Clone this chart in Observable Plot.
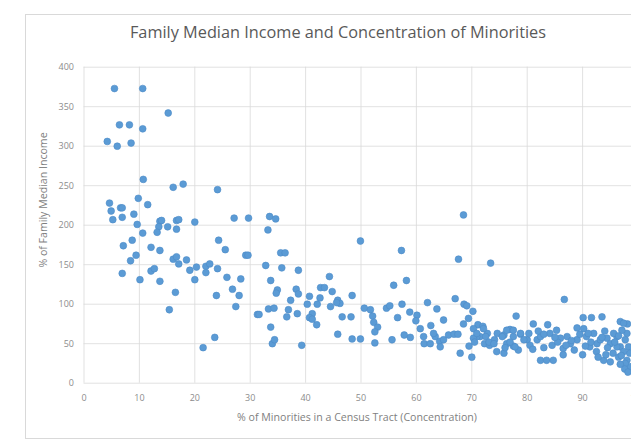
<!DOCTYPE html>
<html><head><meta charset="utf-8">
<script src="https://cdn.jsdelivr.net/npm/d3@7"></script>
<script src="https://cdn.jsdelivr.net/npm/@observablehq/plot@0.6"></script>
<style>
html,body{margin:0;padding:0;background:#fff;overflow:hidden;}
#wrap{position:relative;width:631px;height:441px;overflow:hidden;font-family:"Open Sans",sans-serif;}
#frame{position:absolute;left:25px;top:14px;width:700px;height:425px;border:1px solid #d9d9d9;box-sizing:border-box;}
#title{position:absolute;left:0;width:676px;top:21px;text-align:center;font-size:16.3px;color:#595959;}
#xtitle{position:absolute;left:0;width:714px;top:410px;text-align:center;font-size:10.6px;color:#7f7f7f;}
#ytitle{position:absolute;left:-57px;width:200px;top:193px;text-align:center;font-size:10.6px;color:#7f7f7f;transform:rotate(-90deg);}
#chart{position:absolute;left:0;top:0;}
#chart svg{max-width:none;}
</style></head>
<body><div id="wrap"><div id="frame"></div>
<div id="title">Family Median Income and Concentration of Minorities</div>
<div id="chart"></div>
<div id="xtitle">% of Minorities in a Census Tract (Concentration)</div>
<div id="ytitle">% of Family Median Income</div>
</div>
<script>
const xTicks = [0,10,20,30,40,50,60,70,80,90,100];
const yTicks = [0,50,100,150,200,250,300,350,400];
const concentration = [
5.5,10.6,15.2,6.4,8.2,10.6,4.2,6.0,8.5,10.7,16.1,17.9,24.1,4.6,6.6,6.9,9.8,11.5,4.9,9.0,
6.9,5.2,27.1,29.7,9.6,10.6,13.7,14.0,13.5,13.2,15.1,16.7,17.1,16.7,20.0,7.1,8.7,12.1,13.7,9.4,
8.4,6.9,10.1,12.1,12.7,13.7,16.1,16.7,17.1,18.5,20.0,19.1,20.3,22.0,22.7,22.0,24.1,24.3,25.5,29.2,
29.6,25.8,28.3,26.8,28.0,27.4,23.9,16.5,15.4,31.3,23.6,21.5,33.5,34.6,33.2,49.9,57.3,35.5,36.3,32.8,
35.7,38.7,44.3,55.9,58.2,33.7,34.9,34.7,38.3,38.7,42.7,43.4,44.8,40.7,37.3,42.6,42.1,40.3,45.8,46.2,
45.6,44.5,48.4,33.3,34.3,31.6,36.9,36.6,38.5,41.2,40.7,42.0,41.2,46.6,48.2,50.6,51.7,52.1,52.3,53.0,
52.5,54.6,55.2,57.4,56.6,58.8,60.1,59.9,60.7,62.6,62.0,63.7,33.7,45.8,34.0,34.4,39.3,48.4,49.9,52.5,
55.6,57.8,58.9,61.3,61.4,62.5,63.4,68.5,67.6,73.4,86.7,67.0,68.6,69.1,70.2,68.5,69.4,78.0,81.1,83.7,
90.1,91.6,93.5,96.8,98.1,82.4,83.5,84.7,71.1,72.0,72.8,71.5,72.3,73.2,74.1,67.9,70.0,75.8,76.9,77.5,
78.8,80.0,78.4,77.5,76.3,75.8,64.2,64.9,65.8,66.8,67.5,70.3,70.9,63.1,64.9,64.3,70.3,72.1,70.9,72.5,
73.1,74.0,74.6,75.5,76.3,76.9,77.5,77.8,78.8,79.4,80.3,81.8,82.4,84.1,85.3,86.0,87.2,87.8,89.0,90.2,
90.7,91.3,92.0,92.6,93.2,93.8,94.4,95.0,96.2,97.4,98.0,97.1,97.7,98.3,98.5,98.0,98.5,96.8,97.4,96.2,
95.6,96.5,97.7,84.5,85.5,86.5,88.5,89.5,90.5,91.5,92.5,93.5,94.5,95.5,95.8,96.5,97.0,94.0,89.0,87.0,
83.0,82.0,80.5,86.5,90.0,92.8,95.0,97.6,98.2,96.8,94.2,91.0,88.0,85.0,83.0,81.0,76.0,74.5,70.5,69.5
];
const incomePct = [
373,373,342,327,327,322,306,300,304,258,248,252,245,228,222,222,234,226,218,214,
210,207,209,209,201,190,205,206,198,191,198,206,207,195,204,174,181,172,168,162,
155,139,131,142,145,129,157,160,151,156,131,143,147,148,151,140,145,181,169,162,
162,134,132,119,111,97,111,115,93,87,58,45,211,208,194,180,168,165,165,149,
146,143,135,124,130,130,118,114,119,113,121,121,116,110,105,108,100,100,105,101,
102,97,111,94,95,87,93,84,88,88,83,74,81,84,84,95,93,85,77,71,
65,95,98,100,83,90,86,79,69,73,102,94,71,62,50,55,48,56,56,51,
55,61,58,59,50,50,59,213,157,152,106,107,100,98,91,75,82,85,75,74,
83,83,84,78,75,29,29,29,74,72,63,59,50,48,55,38,33,61,68,59,
62,55,42,47,50,38,53,80,61,62,62,69,59,63,55,46,57,69,63,59,
52,50,63,59,67,52,67,46,63,55,63,55,59,63,67,57,59,50,55,69,
59,46,63,50,55,29,57,50,59,76,63,67,55,46,38,29,21,46,40,46,
63,33,25,48,52,44,42,62,47,52,40,58,45,38,52,60,35,66,70,48,
45,66,48,36,36,33,27,18,14,24,36,63,54,58,62,43,45,40,52,47
];
const data = concentration.map((x, i) => ({x, y: incomePct[i]}));
const chart = Plot.plot({
  width: 700, height: 441,
  marginLeft: 83.5, marginRight: 62.5, marginTop: 66.7, marginBottom: 58.3,
  x: {domain: [0, 100], label: null},
  y: {domain: [0, 400], label: null},
  style: {fontFamily: "Open Sans", fontSize: "9px", color: "#8c8c8c", background: "transparent", maxWidth: "none"},
  marks: [
    Plot.gridX(xTicks, {stroke: "#d9d9d9", strokeOpacity: 1, strokeWidth: 0.8}),
    Plot.gridY(yTicks, {stroke: "#d9d9d9", strokeOpacity: 1, strokeWidth: 0.8}),
    Plot.axisX(xTicks, {tickSize: 0, tickPadding: 11, label: null}),
    Plot.axisY(yTicks, {tickSize: 0, tickPadding: 10, label: null}),
    Plot.dot(data, {x: "x", y: "y", r: 3.4, fill: "#5b9bd5", stroke: "#4d8cc8", strokeWidth: 0.6})
  ]
});
document.getElementById("chart").appendChild(chart);
</script>
</body></html>
